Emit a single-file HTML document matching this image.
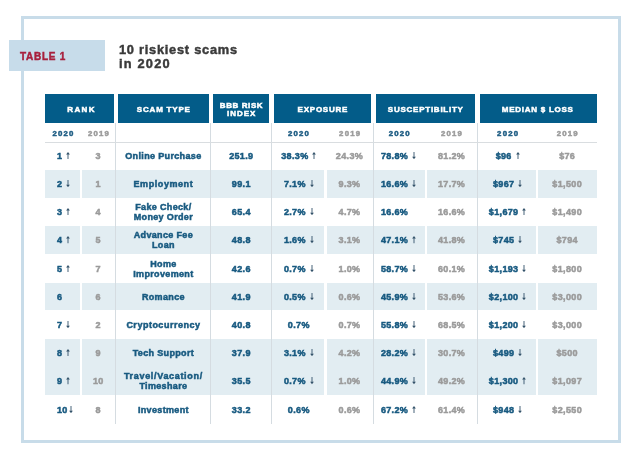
<!DOCTYPE html>
<html><head><meta charset="utf-8"><style>
html,body{margin:0;padding:0;background:#fff;width:640px;height:465px;overflow:hidden}
body{position:relative;font-family:"Liberation Sans",Arial,sans-serif;font-weight:bold}
div.box{position:absolute;box-sizing:border-box}
p{position:absolute;margin:0;white-space:nowrap;line-height:1}
p.db,p.dg{font-size:9.0px;letter-spacing:0.35px}
p.db{color:#185a80}
p.dg{color:#9b9b9b}
p.h{font-size:8.0px;color:#fff}
p.h.h{-webkit-text-stroke:0.5px #fff}
p.sb,p.sg{font-size:7.8px;letter-spacing:1.2px;text-indent:1.2px}
p.sb{color:#1d5c83}
p.sg{color:#9b9b9b}
p.t{font-size:12.8px;color:#3a3a3a;-webkit-text-stroke:0.45px currentColor}
p.k{font-size:10.0px;color:#a8203d;-webkit-text-stroke:0.45px currentColor}
b.o{font-weight:bold;margin:0 -0.5px}
svg.ar{fill:#34536a;vertical-align:baseline;margin-left:1px}
p.db,p.dg,p.h,p.sb,p.sg{-webkit-text-stroke:0.5px currentColor}
#w{position:absolute;left:0;top:0;width:640px;height:465px;filter:blur(0.3px)}
</style></head><body><div id="w">
<div class="box" style="left:21px;top:16px;width:600px;height:427px;border:3px solid #c8dce9"></div>
<div class="box" style="left:9px;top:40px;width:96px;height:31px;background:#c7dcea"></div>
<div class="box" style="left:45.3px;top:170.00px;width:34.30px;height:27.6px;background:#e2edf2"></div>
<div class="box" style="left:81.8px;top:170.00px;width:242.60px;height:27.6px;background:#e2edf2"></div>
<div class="box" style="left:326.6px;top:170.00px;width:98.50px;height:27.6px;background:#e2edf2"></div>
<div class="box" style="left:427.3px;top:170.00px;width:108.90px;height:27.6px;background:#e2edf2"></div>
<div class="box" style="left:538.3px;top:170.00px;width:59.10px;height:27.6px;background:#e2edf2"></div>
<div class="box" style="left:45.3px;top:226.40px;width:34.30px;height:27.6px;background:#e2edf2"></div>
<div class="box" style="left:81.8px;top:226.40px;width:242.60px;height:27.6px;background:#e2edf2"></div>
<div class="box" style="left:326.6px;top:226.40px;width:98.50px;height:27.6px;background:#e2edf2"></div>
<div class="box" style="left:427.3px;top:226.40px;width:108.90px;height:27.6px;background:#e2edf2"></div>
<div class="box" style="left:538.3px;top:226.40px;width:59.10px;height:27.6px;background:#e2edf2"></div>
<div class="box" style="left:45.3px;top:282.80px;width:34.30px;height:27.6px;background:#e2edf2"></div>
<div class="box" style="left:81.8px;top:282.80px;width:242.60px;height:27.6px;background:#e2edf2"></div>
<div class="box" style="left:326.6px;top:282.80px;width:98.50px;height:27.6px;background:#e2edf2"></div>
<div class="box" style="left:427.3px;top:282.80px;width:108.90px;height:27.6px;background:#e2edf2"></div>
<div class="box" style="left:538.3px;top:282.80px;width:59.10px;height:27.6px;background:#e2edf2"></div>
<div class="box" style="left:45.3px;top:339.20px;width:34.30px;height:55.80px;background:#e2edf2"></div>
<div class="box" style="left:81.8px;top:339.20px;width:242.60px;height:55.80px;background:#e2edf2"></div>
<div class="box" style="left:326.6px;top:339.20px;width:98.50px;height:55.80px;background:#e2edf2"></div>
<div class="box" style="left:427.3px;top:339.20px;width:108.90px;height:55.80px;background:#e2edf2"></div>
<div class="box" style="left:538.3px;top:339.20px;width:59.10px;height:55.80px;background:#e2edf2"></div>
<div class="box" style="left:45.3px;top:94.3px;width:68.50px;height:28.3px;background:#035c89"></div>
<div class="box" style="left:118.0px;top:94.3px;width:91.00px;height:28.3px;background:#035c89"></div>
<div class="box" style="left:213.3px;top:94.3px;width:56.00px;height:28.3px;background:#035c89"></div>
<div class="box" style="left:274.0px;top:94.3px;width:97.00px;height:28.3px;background:#035c89"></div>
<div class="box" style="left:375.7px;top:94.3px;width:99.70px;height:28.3px;background:#035c89"></div>
<div class="box" style="left:479.8px;top:94.3px;width:117.60px;height:28.3px;background:#035c89"></div>
<div class="box" style="left:115.0px;top:122.6px;width:1px;height:301px;background:#d5dce1"></div>
<div class="box" style="left:210.2px;top:122.6px;width:1px;height:301px;background:#d5dce1"></div>
<div class="box" style="left:270.9px;top:122.6px;width:1px;height:301px;background:#d5dce1"></div>
<div class="box" style="left:372.9px;top:122.6px;width:1px;height:301px;background:#d5dce1"></div>
<div class="box" style="left:477.1px;top:122.6px;width:1px;height:301px;background:#d5dce1"></div>
<div class="box" style="left:45px;top:142px;width:552px;height:1px;background:#d9dde0"></div>
<p class="h" style="left:20.900000000000006px;top:105.83px;width:120px;text-align:center;letter-spacing:1.35px;text-indent:1.35px">RANK</p>
<p class="h" style="left:103.4px;top:105.83px;width:120px;text-align:center;letter-spacing:0.8px;text-indent:0.8px">SCAM TYPE</p>
<p class="h" style="left:181.2px;top:101.73px;width:120px;text-align:center;letter-spacing:0.6px;text-indent:0.6px">BBB RISK</p>
<p class="h" style="left:181.2px;top:110.23px;width:120px;text-align:center;letter-spacing:0.95px;text-indent:0.95px">INDEX</p>
<p class="h" style="left:262.5px;top:105.83px;width:120px;text-align:center;letter-spacing:0.76px;text-indent:0.76px">EXPOSURE</p>
<p class="h" style="left:365.4px;top:105.83px;width:120px;text-align:center;letter-spacing:0.75px;text-indent:0.75px">SUSCEPTIBILITY</p>
<p class="h" style="left:477.4px;top:105.83px;width:120px;text-align:center;letter-spacing:0.74px;text-indent:0.74px">MEDIAN $ LOSS</p>
<p class="sb" style="left:32.9px;top:130.20px;width:60px;text-align:center">2020</p>
<p class="sg" style="left:68.4px;top:130.20px;width:60px;text-align:center">2019</p>
<p class="sb" style="left:268.5px;top:130.20px;width:60px;text-align:center">2020</p>
<p class="sg" style="left:319.6px;top:130.20px;width:60px;text-align:center">2019</p>
<p class="sb" style="left:369.2px;top:130.20px;width:60px;text-align:center">2020</p>
<p class="sg" style="left:421.5px;top:130.20px;width:60px;text-align:center">2019</p>
<p class="sb" style="left:477.6px;top:130.20px;width:60px;text-align:center">2020</p>
<p class="sg" style="left:537.2px;top:130.20px;width:60px;text-align:center">2019</p>
<p class="db" style="left:57.0px;top:151.88px">1&nbsp;<svg class="ar" width="4" height="7.2" viewBox="0 0 40 72"><path d="M20 0L39 25H24.5V72H15.5V25H1Z"/></svg></p>
<p class="dg" style="left:38.3px;top:151.88px;width:120px;text-align:center">3</p>
<p class="db" style="left:103.4px;top:151.88px;width:120px;text-align:center">Online Purchase</p>
<p class="db" style="left:181.3px;top:151.88px;width:120px;text-align:center">251.9</p>
<p class="db" style="left:238.8px;top:151.88px;width:120px;text-align:center">38.3%&nbsp;<svg class="ar" width="4" height="7.2" viewBox="0 0 40 72"><path d="M20 0L39 25H24.5V72H15.5V25H1Z"/></svg></p>
<p class="dg" style="left:289.5px;top:151.88px;width:120px;text-align:center">24.3%</p>
<p class="db" style="left:380.9px;top:151.88px">78.8%&nbsp;<svg class="ar" width="4" height="7.2" viewBox="0 0 40 72"><path d="M20 72L39 47H24.5V0H15.5V47H1Z"/></svg></p>
<p class="dg" style="left:391.6px;top:151.88px;width:120px;text-align:center">81.2%</p>
<p class="db" style="left:447.6px;top:151.88px;width:120px;text-align:center">$96&nbsp;<svg class="ar" width="4" height="7.2" viewBox="0 0 40 72"><path d="M20 0L39 25H24.5V72H15.5V25H1Z"/></svg></p>
<p class="dg" style="left:507.20000000000005px;top:151.88px;width:120px;text-align:center">$76</p>
<p class="db" style="left:57.0px;top:180.08px">2&nbsp;<svg class="ar" width="4" height="7.2" viewBox="0 0 40 72"><path d="M20 72L39 47H24.5V0H15.5V47H1Z"/></svg></p>
<p class="dg" style="left:38.3px;top:180.08px;width:120px;text-align:center">1</p>
<p class="db" style="left:103.4px;top:180.08px;width:120px;text-align:center;letter-spacing:0.57px">Employment</p>
<p class="db" style="left:181.3px;top:180.08px;width:120px;text-align:center">99.1</p>
<p class="db" style="left:238.8px;top:180.08px;width:120px;text-align:center">7.1%&nbsp;<svg class="ar" width="4" height="7.2" viewBox="0 0 40 72"><path d="M20 72L39 47H24.5V0H15.5V47H1Z"/></svg></p>
<p class="dg" style="left:289.5px;top:180.08px;width:120px;text-align:center">9.3%</p>
<p class="db" style="left:380.9px;top:180.08px">16.6%&nbsp;<svg class="ar" width="4" height="7.2" viewBox="0 0 40 72"><path d="M20 72L39 47H24.5V0H15.5V47H1Z"/></svg></p>
<p class="dg" style="left:391.6px;top:180.08px;width:120px;text-align:center">17.7%</p>
<p class="db" style="left:447.6px;top:180.08px;width:120px;text-align:center">$967&nbsp;<svg class="ar" width="4" height="7.2" viewBox="0 0 40 72"><path d="M20 72L39 47H24.5V0H15.5V47H1Z"/></svg></p>
<p class="dg" style="left:507.20000000000005px;top:180.08px;width:120px;text-align:center">$1,500</p>
<p class="db" style="left:57.0px;top:208.28px">3&nbsp;<svg class="ar" width="4" height="7.2" viewBox="0 0 40 72"><path d="M20 0L39 25H24.5V72H15.5V25H1Z"/></svg></p>
<p class="dg" style="left:38.3px;top:208.28px;width:120px;text-align:center">4</p>
<p class="db" style="left:103.4px;top:203.28px;width:120px;text-align:center">Fake Check/</p>
<p class="db" style="left:103.4px;top:213.28px;width:120px;text-align:center">Money Order</p>
<p class="db" style="left:181.3px;top:208.28px;width:120px;text-align:center">65.4</p>
<p class="db" style="left:238.8px;top:208.28px;width:120px;text-align:center">2.7%&nbsp;<svg class="ar" width="4" height="7.2" viewBox="0 0 40 72"><path d="M20 72L39 47H24.5V0H15.5V47H1Z"/></svg></p>
<p class="dg" style="left:289.5px;top:208.28px;width:120px;text-align:center">4.7%</p>
<p class="db" style="left:380.9px;top:208.28px">16.6%</p>
<p class="dg" style="left:391.6px;top:208.28px;width:120px;text-align:center">16.6%</p>
<p class="db" style="left:447.6px;top:208.28px;width:120px;text-align:center">$1,679&nbsp;<svg class="ar" width="4" height="7.2" viewBox="0 0 40 72"><path d="M20 0L39 25H24.5V72H15.5V25H1Z"/></svg></p>
<p class="dg" style="left:507.20000000000005px;top:208.28px;width:120px;text-align:center">$1,490</p>
<p class="db" style="left:57.0px;top:236.48px">4&nbsp;<svg class="ar" width="4" height="7.2" viewBox="0 0 40 72"><path d="M20 0L39 25H24.5V72H15.5V25H1Z"/></svg></p>
<p class="dg" style="left:38.3px;top:236.48px;width:120px;text-align:center">5</p>
<p class="db" style="left:103.4px;top:231.48px;width:120px;text-align:center">Advance Fee</p>
<p class="db" style="left:103.4px;top:241.48px;width:120px;text-align:center">Loan</p>
<p class="db" style="left:181.3px;top:236.48px;width:120px;text-align:center">48.8</p>
<p class="db" style="left:238.8px;top:236.48px;width:120px;text-align:center">1.6%&nbsp;<svg class="ar" width="4" height="7.2" viewBox="0 0 40 72"><path d="M20 72L39 47H24.5V0H15.5V47H1Z"/></svg></p>
<p class="dg" style="left:289.5px;top:236.48px;width:120px;text-align:center">3.1%</p>
<p class="db" style="left:380.9px;top:236.48px">47.1%&nbsp;<svg class="ar" width="4" height="7.2" viewBox="0 0 40 72"><path d="M20 0L39 25H24.5V72H15.5V25H1Z"/></svg></p>
<p class="dg" style="left:391.6px;top:236.48px;width:120px;text-align:center">41.8%</p>
<p class="db" style="left:447.6px;top:236.48px;width:120px;text-align:center">$745&nbsp;<svg class="ar" width="4" height="7.2" viewBox="0 0 40 72"><path d="M20 72L39 47H24.5V0H15.5V47H1Z"/></svg></p>
<p class="dg" style="left:507.20000000000005px;top:236.48px;width:120px;text-align:center">$794</p>
<p class="db" style="left:57.0px;top:264.68px">5&nbsp;<svg class="ar" width="4" height="7.2" viewBox="0 0 40 72"><path d="M20 0L39 25H24.5V72H15.5V25H1Z"/></svg></p>
<p class="dg" style="left:38.3px;top:264.68px;width:120px;text-align:center">7</p>
<p class="db" style="left:103.4px;top:259.68px;width:120px;text-align:center">Home</p>
<p class="db" style="left:103.4px;top:269.68px;width:120px;text-align:center">Improvement</p>
<p class="db" style="left:181.3px;top:264.68px;width:120px;text-align:center">42.6</p>
<p class="db" style="left:238.8px;top:264.68px;width:120px;text-align:center">0.7%&nbsp;<svg class="ar" width="4" height="7.2" viewBox="0 0 40 72"><path d="M20 72L39 47H24.5V0H15.5V47H1Z"/></svg></p>
<p class="dg" style="left:289.5px;top:264.68px;width:120px;text-align:center">1.0%</p>
<p class="db" style="left:380.9px;top:264.68px">58.7%&nbsp;<svg class="ar" width="4" height="7.2" viewBox="0 0 40 72"><path d="M20 72L39 47H24.5V0H15.5V47H1Z"/></svg></p>
<p class="dg" style="left:391.6px;top:264.68px;width:120px;text-align:center">60.1%</p>
<p class="db" style="left:447.6px;top:264.68px;width:120px;text-align:center">$1,193&nbsp;<svg class="ar" width="4" height="7.2" viewBox="0 0 40 72"><path d="M20 72L39 47H24.5V0H15.5V47H1Z"/></svg></p>
<p class="dg" style="left:507.20000000000005px;top:264.68px;width:120px;text-align:center">$1,800</p>
<p class="db" style="left:57.0px;top:292.88px">6</p>
<p class="dg" style="left:38.3px;top:292.88px;width:120px;text-align:center">6</p>
<p class="db" style="left:103.4px;top:292.88px;width:120px;text-align:center">Romance</p>
<p class="db" style="left:181.3px;top:292.88px;width:120px;text-align:center">41.9</p>
<p class="db" style="left:238.8px;top:292.88px;width:120px;text-align:center">0.5%&nbsp;<svg class="ar" width="4" height="7.2" viewBox="0 0 40 72"><path d="M20 72L39 47H24.5V0H15.5V47H1Z"/></svg></p>
<p class="dg" style="left:289.5px;top:292.88px;width:120px;text-align:center">0.6%</p>
<p class="db" style="left:380.9px;top:292.88px">45.9%&nbsp;<svg class="ar" width="4" height="7.2" viewBox="0 0 40 72"><path d="M20 72L39 47H24.5V0H15.5V47H1Z"/></svg></p>
<p class="dg" style="left:391.6px;top:292.88px;width:120px;text-align:center">53.6%</p>
<p class="db" style="left:447.6px;top:292.88px;width:120px;text-align:center">$2,100&nbsp;<svg class="ar" width="4" height="7.2" viewBox="0 0 40 72"><path d="M20 72L39 47H24.5V0H15.5V47H1Z"/></svg></p>
<p class="dg" style="left:507.20000000000005px;top:292.88px;width:120px;text-align:center">$3,000</p>
<p class="db" style="left:57.0px;top:321.08px">7&nbsp;<svg class="ar" width="4" height="7.2" viewBox="0 0 40 72"><path d="M20 72L39 47H24.5V0H15.5V47H1Z"/></svg></p>
<p class="dg" style="left:38.3px;top:321.08px;width:120px;text-align:center">2</p>
<p class="db" style="left:103.4px;top:321.08px;width:120px;text-align:center;letter-spacing:0.5px">Cryptocurrency</p>
<p class="db" style="left:181.3px;top:321.08px;width:120px;text-align:center">40.8</p>
<p class="db" style="left:238.8px;top:321.08px;width:120px;text-align:center">0.7%</p>
<p class="dg" style="left:289.5px;top:321.08px;width:120px;text-align:center">0.7%</p>
<p class="db" style="left:380.9px;top:321.08px">55.8%&nbsp;<svg class="ar" width="4" height="7.2" viewBox="0 0 40 72"><path d="M20 72L39 47H24.5V0H15.5V47H1Z"/></svg></p>
<p class="dg" style="left:391.6px;top:321.08px;width:120px;text-align:center">68.5%</p>
<p class="db" style="left:447.6px;top:321.08px;width:120px;text-align:center">$1,200&nbsp;<svg class="ar" width="4" height="7.2" viewBox="0 0 40 72"><path d="M20 72L39 47H24.5V0H15.5V47H1Z"/></svg></p>
<p class="dg" style="left:507.20000000000005px;top:321.08px;width:120px;text-align:center">$3,000</p>
<p class="db" style="left:57.0px;top:349.28px">8&nbsp;<svg class="ar" width="4" height="7.2" viewBox="0 0 40 72"><path d="M20 0L39 25H24.5V72H15.5V25H1Z"/></svg></p>
<p class="dg" style="left:38.3px;top:349.28px;width:120px;text-align:center">9</p>
<p class="db" style="left:103.4px;top:349.28px;width:120px;text-align:center">Tech Support</p>
<p class="db" style="left:181.3px;top:349.28px;width:120px;text-align:center">37.9</p>
<p class="db" style="left:238.8px;top:349.28px;width:120px;text-align:center">3.1%&nbsp;<svg class="ar" width="4" height="7.2" viewBox="0 0 40 72"><path d="M20 72L39 47H24.5V0H15.5V47H1Z"/></svg></p>
<p class="dg" style="left:289.5px;top:349.28px;width:120px;text-align:center">4.2%</p>
<p class="db" style="left:380.9px;top:349.28px">28.2%&nbsp;<svg class="ar" width="4" height="7.2" viewBox="0 0 40 72"><path d="M20 72L39 47H24.5V0H15.5V47H1Z"/></svg></p>
<p class="dg" style="left:391.6px;top:349.28px;width:120px;text-align:center">30.7%</p>
<p class="db" style="left:447.6px;top:349.28px;width:120px;text-align:center">$499&nbsp;<svg class="ar" width="4" height="7.2" viewBox="0 0 40 72"><path d="M20 72L39 47H24.5V0H15.5V47H1Z"/></svg></p>
<p class="dg" style="left:507.20000000000005px;top:349.28px;width:120px;text-align:center">$500</p>
<p class="db" style="left:57.0px;top:377.48px">9&nbsp;<svg class="ar" width="4" height="7.2" viewBox="0 0 40 72"><path d="M20 0L39 25H24.5V72H15.5V25H1Z"/></svg></p>
<p class="dg" style="left:38.3px;top:377.48px;width:120px;text-align:center">10</p>
<p class="db" style="left:103.4px;top:372.48px;width:120px;text-align:center;letter-spacing:0.68px">Travel/Vacation/</p>
<p class="db" style="left:103.4px;top:382.48px;width:120px;text-align:center">Timeshare</p>
<p class="db" style="left:181.3px;top:377.48px;width:120px;text-align:center">35.5</p>
<p class="db" style="left:238.8px;top:377.48px;width:120px;text-align:center">0.7%&nbsp;<svg class="ar" width="4" height="7.2" viewBox="0 0 40 72"><path d="M20 72L39 47H24.5V0H15.5V47H1Z"/></svg></p>
<p class="dg" style="left:289.5px;top:377.48px;width:120px;text-align:center">1.0%</p>
<p class="db" style="left:380.9px;top:377.48px">44.9%&nbsp;<svg class="ar" width="4" height="7.2" viewBox="0 0 40 72"><path d="M20 72L39 47H24.5V0H15.5V47H1Z"/></svg></p>
<p class="dg" style="left:391.6px;top:377.48px;width:120px;text-align:center">49.2%</p>
<p class="db" style="left:447.6px;top:377.48px;width:120px;text-align:center">$1,300&nbsp;<svg class="ar" width="4" height="7.2" viewBox="0 0 40 72"><path d="M20 0L39 25H24.5V72H15.5V25H1Z"/></svg></p>
<p class="dg" style="left:507.20000000000005px;top:377.48px;width:120px;text-align:center">$1,097</p>
<p class="db" style="left:57.0px;top:405.68px">10<svg class="ar" width="4" height="7.2" viewBox="0 0 40 72"><path d="M20 72L39 47H24.5V0H15.5V47H1Z"/></svg></p>
<p class="dg" style="left:38.3px;top:405.68px;width:120px;text-align:center">8</p>
<p class="db" style="left:103.4px;top:405.68px;width:120px;text-align:center">Investment</p>
<p class="db" style="left:181.3px;top:405.68px;width:120px;text-align:center">33.2</p>
<p class="db" style="left:238.8px;top:405.68px;width:120px;text-align:center">0.6%</p>
<p class="dg" style="left:289.5px;top:405.68px;width:120px;text-align:center">0.6%</p>
<p class="db" style="left:380.9px;top:405.68px">67.2%&nbsp;<svg class="ar" width="4" height="7.2" viewBox="0 0 40 72"><path d="M20 0L39 25H24.5V72H15.5V25H1Z"/></svg></p>
<p class="dg" style="left:391.6px;top:405.68px;width:120px;text-align:center">61.4%</p>
<p class="db" style="left:447.6px;top:405.68px;width:120px;text-align:center">$948&nbsp;<svg class="ar" width="4" height="7.2" viewBox="0 0 40 72"><path d="M20 72L39 47H24.5V0H15.5V47H1Z"/></svg></p>
<p class="dg" style="left:507.20000000000005px;top:405.68px;width:120px;text-align:center">$2,550</p>
<p class="t" style="left:119px;top:43.86px;letter-spacing:0.75px">10 riskiest scams</p>
<p class="t" style="left:119px;top:58.36px;letter-spacing:1.2px">in 2020</p>
<p class="k" style="left:20px;top:51.83px;letter-spacing:0.72px">TABLE 1</p>
</div></body></html>
